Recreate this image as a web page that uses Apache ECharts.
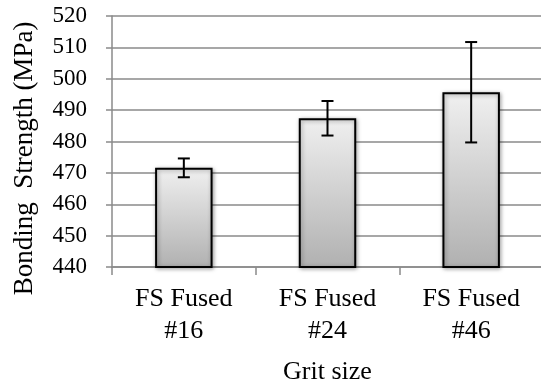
<!DOCTYPE html>
<html>
<head>
<meta charset="utf-8">
<script src="https://cdn.jsdelivr.net/npm/echarts@6/dist/echarts.min.js"></script>
<style>
  html, body { margin: 0; padding: 0; background: #fff; }
  #chart { width: 541px; height: 383px; }
</style>
</head>
<body>
<div id="chart"></div>
<script>
// Grit sizes and measured bonding strength (MPa) with standard deviations
const categories = ['FS Fused\n#16', 'FS Fused\n#24', 'FS Fused\n#46'];
const strength = [471.6, 487.4, 495.7];
const deviation = [3.0, 5.5, 16.0];
const yTicks = [440, 450, 460, 470, 480, 490, 500, 510, 520];

const FONT = '"Liberation Serif", "Times New Roman", serif';
const chart = echarts.init(document.getElementById('chart'));

// error bar endpoints built from the mean and deviation arrays
const errorData = strength.map((v, i) => [i, v - deviation[i], v + deviation[i]]);

chart.setOption({
  animation: false,
  grid: { left: 112, top: 16, right: -2, bottom: 116, containLabel: false, outerBoundsMode: 'none' },
  xAxis: {
    type: 'category',
    data: categories,
    name: 'Grit size',
    nameLocation: 'middle',
    nameGap: 92,
    nameTextStyle: { fontFamily: FONT, fontSize: 26, color: '#000' },
    axisLine: { lineStyle: { color: '#8a8a8a', width: 1.5 } },
    axisTick: { show: true, length: 8, lineStyle: { color: '#8a8a8a', width: 1.5 } },
    axisLabel: { fontFamily: FONT, fontSize: 26, color: '#000', margin: 16, lineHeight: 32 }
  },
  yAxis: {
    type: 'value',
    min: yTicks[0],
    max: yTicks[yTicks.length - 1],
    interval: 10,
    name: 'Bonding  Strength (MPa)',
    nameLocation: 'middle',
    nameGap: 74,
    nameTextStyle: { fontFamily: FONT, fontSize: 27, color: '#000', padding: [0, 34, 0, 0] },
    axisLine: { show: true, lineStyle: { color: '#8a8a8a', width: 1.5 } },
    axisTick: { show: true, length: 6, lineStyle: { color: '#8a8a8a', width: 1.5 } },
    axisLabel: { fontFamily: FONT, fontSize: 23, color: '#000', margin: 25 },
    splitLine: { show: true, lineStyle: { color: '#8a8a8a', width: 1.5 } }
  },
  series: [
    {
      type: 'bar',
      data: strength,
      barWidth: '40%',
      itemStyle: {
        color: new echarts.graphic.LinearGradient(0, 0, 0, 1, [
          { offset: 0, color: '#f0f0f0' },
          { offset: 1, color: '#b0b0b0' }
        ]),
        borderColor: '#000',
        borderWidth: 2,
        shadowColor: 'rgba(0,0,0,0.35)',
        shadowBlur: 4,
        shadowOffsetX: 1,
        shadowOffsetY: 1
      },
      z: 2
    },
    {
      type: 'custom',
      data: errorData,
      z: 5,
      renderItem: function (params, api) {
        const x = api.value(0);
        const lo = api.coord([x, api.value(1)]);
        const hi = api.coord([x, api.value(2)]);
        const half = 6;
        const style = { stroke: '#000', lineWidth: 2 };
        return {
          type: 'group',
          children: [
            { type: 'line', shape: { x1: hi[0], y1: hi[1], x2: lo[0], y2: lo[1] }, style: style },
            { type: 'line', shape: { x1: hi[0] - half, y1: hi[1], x2: hi[0] + half, y2: hi[1] }, style: style },
            { type: 'line', shape: { x1: lo[0] - half, y1: lo[1], x2: lo[0] + half, y2: lo[1] }, style: style }
          ]
        };
      }
    }
  ]
});
</script>
</body>
</html>
